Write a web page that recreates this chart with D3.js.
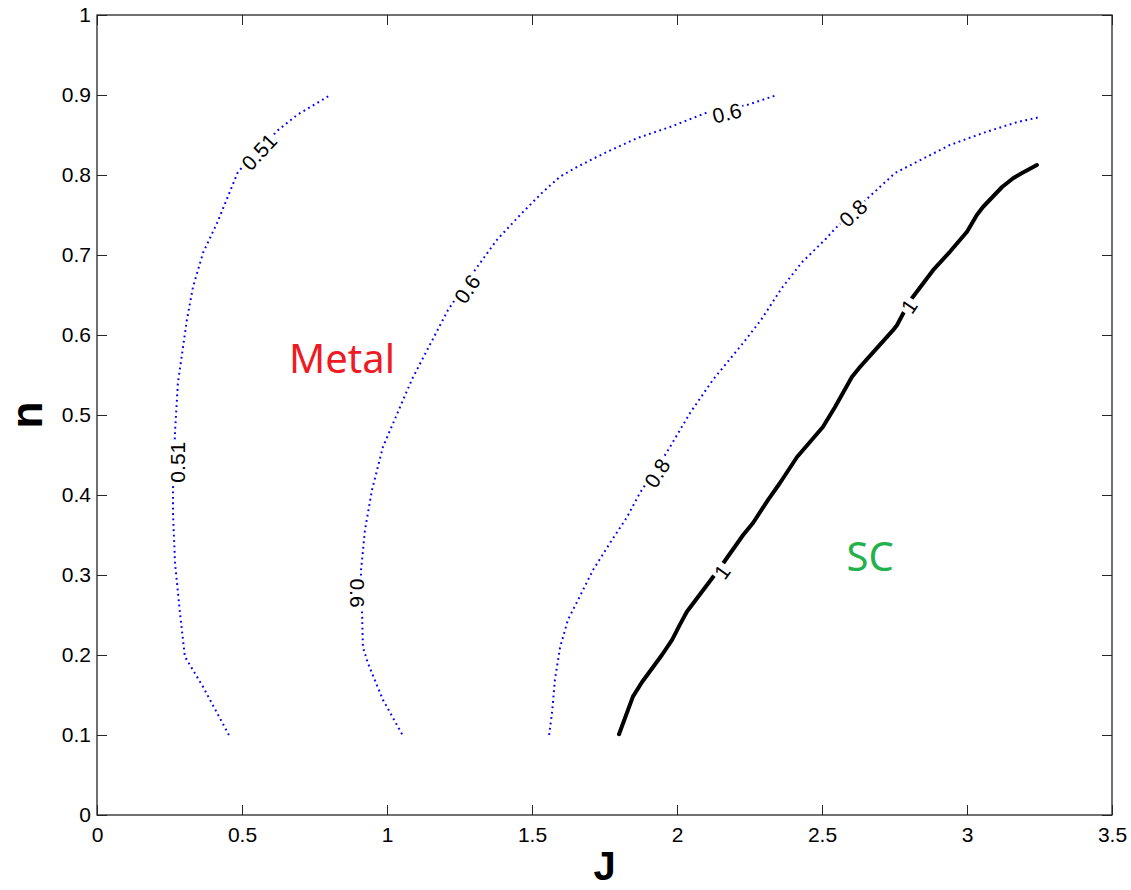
<!DOCTYPE html>
<html>
<head>
<meta charset="utf-8">
<script src="https://cdn.jsdelivr.net/npm/d3@7"></script>
<style>
  body { margin: 0; background: #fff; }
  .tick text { font-family: "Liberation Sans", Arial, sans-serif; font-size: 21px; fill: #000; }
  .tick line { stroke: #262626; }
</style>
</head>
<body>
<div id="chart"></div>
<script>
// contour levels as [J, n] pairs
const level051 = [[0.455,0.100],[0.366,0.160],[0.303,0.198],[0.286,0.253],[0.269,0.315],[0.262,0.378],
  [0.262,0.406],[0.269,0.479],[0.279,0.540],[0.310,0.619],[0.331,0.660],[0.366,0.703],[0.414,0.740],
  [0.486,0.804],[0.624,0.856],[0.690,0.875],[0.800,0.899]];
const level06 = [[1.052,0.101],[0.986,0.144],[0.934,0.190],[0.917,0.210],[0.914,0.253],[0.910,0.304],
  [0.924,0.356],[0.948,0.406],[0.986,0.460],[1.045,0.510],[1.088,0.546],[1.210,0.631],[1.303,0.681],
  [1.379,0.719],[1.459,0.750],[1.538,0.779],[1.597,0.798],[1.655,0.810],[1.759,0.829],[1.862,0.846],
  [1.976,0.860],[2.103,0.878],[2.241,0.8875],[2.345,0.900]];
const level08 = [[1.559,0.100],[1.569,0.1275],[1.579,0.169],[1.597,0.210],[1.624,0.244],[1.659,0.269],
  [1.710,0.306],[1.769,0.340],[1.828,0.3725],[1.872,0.4025],[1.966,0.454],[2.045,0.5025],[2.124,0.544],
  [2.228,0.590],[2.290,0.619],[2.362,0.659],[2.431,0.691],[2.510,0.719],[2.548,0.734],[2.662,0.7725],
  [2.752,0.8025],[2.841,0.819],[2.941,0.8375],[3.055,0.8525],[3.172,0.866],[3.252,0.8725]];
const level1 = [[1.800,0.101],[1.848,0.148],[1.879,0.166],[1.948,0.200],[1.983,0.219],[2.010,0.238],
  [2.034,0.254],[2.121,0.296],[2.155,0.3125],[2.228,0.350],[2.262,0.365],[2.314,0.394],[2.355,0.415],
  [2.414,0.4475],[2.503,0.485],[2.545,0.510],[2.603,0.5475],[2.631,0.560],[2.690,0.584],[2.745,0.606],
  [2.759,0.6125],[2.783,0.629],[2.810,0.646],[2.883,0.681],[2.941,0.704],[3.000,0.729],[3.034,0.750],
  [3.055,0.760],[3.121,0.785],[3.159,0.796],[3.190,0.8025],[3.241,0.8125]];

// contour labels: text, J, n, angle along the line
const labelText  = ["0.51", "0.51", "0.6", "0.6", "0.6", "0.8", "0.8", "1", "1"];
const labelJ     = [0.279, 0.559, 0.897, 1.276, 2.172, 1.931, 2.607, 2.155, 2.800];
const labelN     = [0.441, 0.829, 0.2775, 0.6575, 0.8775, 0.4275, 0.7525, 0.304, 0.636];
const labelAngle = [-90, -47, 90, -56, -14, -58, -44, -54, -56];

const xTicks = [0, 0.5, 1, 1.5, 2, 2.5, 3, 3.5];
const yTicks = [0, 0.1, 0.2, 0.3, 0.4, 0.5, 0.6, 0.7, 0.8, 0.9, 1];

const W = 1131, H = 890;
const margin = {left: 97, top: 15, right: 19, bottom: 75};
const width = W - margin.left - margin.right,
  height = H - margin.top - margin.bottom;

const svg = d3.select("#chart").append("svg")
  .attr("width", W).attr("height", H);
const g = svg.append("g").attr("transform", `translate(${margin.left},${margin.top})`);

const x = d3.scaleLinear().domain([0, 3.5]).range([0, width]);
const y = d3.scaleLinear().domain([0, 1]).range([height, 0]);
const fmt = d => String(+d.toFixed(1));

// axes, ticks pointing inwards on all four sides
g.append("g").attr("transform", `translate(0,${height})`)
  .call(d3.axisBottom(x).tickValues(xTicks).tickFormat(fmt).tickSize(-10).tickSizeOuter(0).tickPadding(12));
g.append("g")
  .call(d3.axisLeft(y).tickValues(yTicks).tickFormat(fmt).tickSize(-10).tickSizeOuter(0).tickPadding(6));
g.append("g")
  .call(d3.axisTop(x).tickValues(xTicks).tickFormat("").tickSize(-10).tickSizeOuter(0));
g.append("g").attr("transform", `translate(${width},0)`)
  .call(d3.axisRight(y).tickValues(yTicks).tickFormat("").tickSize(-10).tickSizeOuter(0));
g.selectAll(".domain").remove();
g.append("rect").attr("width", width).attr("height", height)
  .attr("fill", "none").attr("stroke", "#262626").attr("stroke-width", 1.3);

const line = d3.line().x(d => x(d[0])).y(d => y(d[1]));

[level051, level06, level08].forEach(pts => {
  g.append("path").datum(pts).attr("d", line)
    .attr("fill", "none").attr("stroke", "#0000ff").attr("stroke-width", 2)
    .attr("stroke-dasharray", "1.8,3.6");
});
g.append("path").datum(level1).attr("d", line)
  .attr("fill", "none").attr("stroke", "#000").attr("stroke-width", 4)
  .attr("stroke-linejoin", "round").attr("stroke-linecap", "round");

// contour labels break the line like clabel does
labelText.forEach((t, i) => {
  const lg = g.append("g")
    .attr("transform", `translate(${x(labelJ[i])},${y(labelN[i])}) rotate(${labelAngle[i]})`);
  const bg = lg.append("rect").attr("fill", "#fff");
  const txt = lg.append("text")
    .attr("text-anchor", "middle").attr("dy", "0.36em")
    .style("font-family", "Liberation Sans, Arial, sans-serif")
    .style("font-size", "21px")
    .text(t);
  const w = txt.node().getComputedTextLength();
  bg.attr("x", -w / 2 - 2).attr("y", -9).attr("width", w + 4).attr("height", 18);
});

// region names
g.append("text").attr("x", x(0.845)).attr("y", y(0.571))
  .attr("text-anchor", "middle").attr("dy", "0.36em")
  .style("font-family", "Noto Sans, sans-serif").style("font-size", "40px")
  .attr("fill", "#ed1c24").text("Metal");
g.append("text").attr("x", x(2.666)).attr("y", y(0.3225))
  .attr("text-anchor", "middle").attr("dy", "0.36em")
  .style("font-family", "Noto Sans, sans-serif").style("font-size", "40px")
  .attr("fill", "#22b14c").text("SC");

// axis titles
svg.append("text").attr("x", margin.left + x(1.75)).attr("y", 880)
  .attr("text-anchor", "middle")
  .style("font-family", "Liberation Sans, Arial, sans-serif").style("font-size", "40px")
  .style("font-weight", "bold").text("J");
svg.append("text").attr("transform", `translate(42,${margin.top + y(0.5)}) rotate(-90)`)
  .attr("text-anchor", "middle")
  .style("font-family", "Liberation Sans, Arial, sans-serif").style("font-size", "44px")
  .style("font-weight", "bold").text("n");
</script>
</body>
</html>
